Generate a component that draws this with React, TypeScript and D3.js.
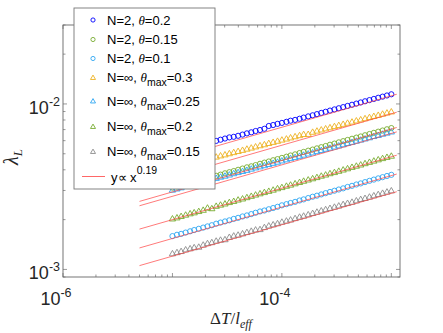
import React from 'react';
import * as d3 from 'd3';

// dT / l_eff values shared by all series
const dT = [
  1.00e-5, 1.10e-5, 1.20e-5, 1.32e-5, 1.45e-5, 1.58e-5, 1.74e-5, 1.91e-5, 2.09e-5, 2.29e-5,
  2.51e-5, 2.75e-5, 3.02e-5, 3.31e-5, 3.63e-5, 3.98e-5, 4.37e-5, 4.79e-5, 5.25e-5, 5.75e-5,
  6.31e-5, 6.92e-5, 7.59e-5, 8.32e-5, 9.12e-5, 1.00e-4, 1.10e-4, 1.20e-4, 1.32e-4, 1.45e-4,
  1.58e-4, 1.74e-4, 1.91e-4, 2.09e-4, 2.29e-4, 2.51e-4, 2.75e-4, 3.02e-4, 3.31e-4, 3.63e-4,
  3.98e-4, 4.37e-4, 4.79e-4, 5.25e-4, 5.75e-4, 6.31e-4, 6.92e-4, 7.59e-4, 8.32e-4, 9.12e-4,
  1.00e-3,
];

// lambda_L, in units of 1e-3
const lamN2t020 = [
  5.09, 5.17, 5.26, 5.34, 5.43, 5.52, 5.61, 5.70, 5.79, 5.89, 5.98, 6.08, 6.18, 6.28, 6.33, 6.42, 6.53,
  6.64, 6.74, 6.86, 6.96, 7.08, 7.36, 7.46, 7.58, 7.68, 7.80, 7.92, 8.01, 8.14, 8.27, 8.41, 8.54, 8.68,
  8.83, 8.97, 9.12, 9.27, 9.42, 9.57, 9.73, 9.89, 10.05, 10.21, 10.38, 10.55, 10.72, 10.90, 11.07, 11.25, 11.44,
];
const lamN2t015 = [
  3.12, 3.17, 3.22, 3.28, 3.33, 3.39, 3.45, 3.50, 3.56, 3.62, 3.68, 3.74, 3.81, 3.87, 3.93, 4.00, 4.07,
  4.14, 4.20, 4.27, 4.35, 4.42, 4.49, 4.57, 4.64, 4.72, 4.80, 4.88, 4.96, 5.05, 5.13, 5.22, 5.30, 5.39,
  5.48, 5.57, 5.67, 5.76, 5.86, 5.96, 6.06, 6.16, 6.26, 6.36, 6.47, 6.58, 6.69, 6.80, 6.91, 7.03, 7.15,
];
const lamN2t010 = [
  1.59, 1.62, 1.64, 1.67, 1.70, 1.73, 1.76, 1.79, 1.82, 1.85, 1.89, 1.92, 1.95, 1.98, 2.02, 2.05, 2.09,
  2.12, 2.16, 2.20, 2.24, 2.27, 2.31, 2.35, 2.39, 2.44, 2.48, 2.52, 2.56, 2.61, 2.65, 2.70, 2.75, 2.79,
  2.84, 2.89, 2.94, 2.99, 3.04, 3.09, 3.15, 3.20, 3.26, 3.31, 3.37, 3.43, 3.49, 3.55, 3.61, 3.67, 3.73,
];
const lamInf030 = [
  4.10, 4.17, 4.23, 4.30, 4.37, 4.44, 4.51, 4.58, 4.65, 4.73, 4.80, 4.88, 4.95, 5.03, 5.11, 5.19, 5.27,
  5.36, 5.44, 5.53, 5.62, 5.70, 5.80, 5.89, 5.98, 6.08, 6.17, 6.27, 6.37, 6.47, 6.57, 6.58, 6.78, 6.89,
  7.00, 7.11, 7.22, 7.34, 7.45, 7.57, 7.69, 7.81, 7.94, 8.06, 8.19, 8.32, 8.45, 8.58, 8.72, 8.86, 9.00,
];
const lamInf025 = [
  3.03, 3.08, 3.13, 3.19, 3.24, 3.29, 3.34, 3.40, 3.45, 3.51, 3.57, 3.63, 3.68, 3.74, 3.81, 3.87, 3.93,
  3.99, 4.06, 4.13, 4.19, 4.26, 4.33, 4.40, 4.47, 4.55, 4.62, 4.70, 4.77, 4.85, 4.93, 5.01, 5.09, 5.18,
  5.26, 5.35, 5.43, 5.52, 5.61, 5.70, 5.80, 5.89, 5.99, 6.08, 6.18, 6.28, 6.39, 6.49, 6.60, 6.70, 6.81,
];
const lamInf020 = [
  2.03, 2.06, 2.10, 2.14, 2.18, 2.21, 2.25, 2.29, 2.36, 2.34, 2.42, 2.46, 2.50, 2.55, 2.59, 2.64, 2.68,
  2.73, 2.78, 2.83, 2.88, 2.93, 2.98, 3.03, 3.09, 3.14, 3.20, 3.25, 3.31, 3.37, 3.43, 3.49, 3.55, 3.61,
  3.68, 3.74, 3.81, 3.87, 3.94, 4.01, 4.08, 4.16, 4.23, 4.30, 4.38, 4.46, 4.54, 4.62, 4.70, 4.78, 4.86,
];
const lamInf015 = [
  1.25, 1.27, 1.29, 1.32, 1.34, 1.36, 1.37, 1.41, 1.44, 1.46, 1.49, 1.51, 1.52, 1.57, 1.60, 1.62, 1.65,
  1.68, 1.71, 1.74, 1.75, 1.80, 1.84, 1.87, 1.90, 1.94, 1.97, 2.00, 2.04, 2.08, 2.11, 2.15, 2.19, 2.23,
  2.27, 2.31, 2.35, 2.39, 2.43, 2.48, 2.52, 2.56, 2.61, 2.66, 2.70, 2.75, 2.80, 2.85, 2.90, 2.95, 3.00,
];

// prefactors of the y ∝ x^0.19 fits, same order as the series
const fitPrefactor = [0.0416, 0.0262, 0.01371, 0.0324, 0.02466, 0.01782, 0.01072];
const fitExponent = 0.19;
const fitRange = [5e-6, 1.12e-3];

const seriesValues = [lamN2t020, lamN2t015, lamN2t010, lamInf030, lamInf025, lamInf020, lamInf015];
const seriesMarker = ['circle', 'circle', 'circle', 'triangle', 'triangle', 'triangle', 'triangle'];
const seriesColor = ['#0000ff', '#77ac30', '#2ea6f2', '#edb120', '#2ea6f2', '#77ac30', '#8c8c8c'];
const legendN = ['2', '2', '2', '∞', '∞', '∞', '∞'];
const legendTheta = ['0.2', '0.15', '0.1', '0.3', '0.25', '0.2', '0.15'];

const FONT = '"Liberation Sans", Arial, Helvetica, sans-serif';
const SERIF = '"Liberation Serif", "Times New Roman", serif';
const FIT_COLOR = '#ff4040';

const triPath = d3.symbol().type(d3.symbolTriangle).size(17)();
const triLegend = d3.symbol().type(d3.symbolTriangle).size(11)();

const Marker = ({ kind, cx, cy, color }) => {
  if (kind === 'circle')
    return <circle cx={cx} cy={cy} r={2.6} fill='none' stroke={color} strokeWidth={0.9} />;
  return <path d={triPath} transform={`translate(${cx},${cy + 0.6})`} fill='none' stroke={color} strokeWidth={0.9} />;
};

export default function App() {
  const x = d3.scaleLog().domain([1e-6, 1.2e-3]).range([63, 400]);
  const y = d3.scaleLog().domain([9e-4, 3e-2]).range([277, 25]);
  const [x0, x1] = x.range();
  const [y0, y1] = y.range();

  const isMajor = v => Math.abs(Math.log10(v) - Math.round(Math.log10(v))) < 1e-6;
  const xTicks = x.ticks().filter(v => v >= 1e-6 && v <= 1.2e-3);
  const yTicks = y.ticks().filter(v => v >= 9e-4 && v <= 3e-2);

  const fitLine = d3.line().x(d => x(d[0])).y(d => y(d[1]));

  // legend row centres
  const rowY = [20, 39.5, 58.5, 77.5, 101, 126.5, 151.5];
  const fitRowY = 176.5;

  return (
    <svg width={443} height={333} style={{ position: 'absolute', left: 0, top: 0, background: '#fff' }}>
      <rect x={0} y={0} width={443} height={333} fill='#fff' />

      {/* ticks */}
      <g stroke='#555' strokeWidth={0.6}>
        {xTicks.map((v, i) => {
          const len = isMajor(v) ? 4 : 2.5;
          const px = x(v);
          return (
            <g key={'xt' + i}>
              <line x1={px} x2={px} y1={y0} y2={y0 - len} />
              <line x1={px} x2={px} y1={y1} y2={y1 + len} />
            </g>
          );
        })}
        {yTicks.map((v, i) => {
          const len = isMajor(v) ? 4 : 2.5;
          const py = y(v);
          return (
            <g key={'yt' + i}>
              <line x1={x0} x2={x0 + len} y1={py} y2={py} />
              <line x1={x1} x2={x1 - len} y1={py} y2={py} />
            </g>
          );
        })}
      </g>

      {/* data markers */}
      {seriesValues.map((vals, s) => (
        <g key={'s' + s}>
          {vals.map((v, i) => (
            <Marker key={i} kind={seriesMarker[s]} cx={x(dT[i])} cy={y(v * 1e-3)} color={seriesColor[s]} />
          ))}
        </g>
      ))}

      {/* power-law fits */}
      {fitPrefactor.map((k, s) => (
        <path
          key={'f' + s}
          d={fitLine(fitRange.map(t => [t, k * Math.pow(t, fitExponent)]))}
          stroke={FIT_COLOR}
          strokeWidth={0.7}
          fill='none'
        />
      ))}

      {/* axes box */}
      <rect x={x0} y={y1} width={x1 - x0} height={y0 - y1} fill='none' stroke='#666' strokeWidth={0.9} />

      {/* tick labels */}
      <g fontFamily={FONT} fill='#262626'>
        {[1e-6, 1e-4].map(v => (
          <text key={'xl' + v} x={x(v) - 7} y={305} fontSize={18} textAnchor='middle'>
            10<tspan fontSize={12.5} dy={-8}>{Math.round(Math.log10(v))}</tspan>
          </text>
        ))}
        {[1e-3, 1e-2].map(v => (
          <text key={'yl' + v} x={60} y={y(v) + 10} fontSize={18} textAnchor='end'>
            10<tspan fontSize={12.5} dy={-8}>{Math.round(Math.log10(v))}</tspan>
          </text>
        ))}
      </g>

      {/* axis labels */}
      <text x={231} y={324} fontFamily={SERIF} fontSize={17} textAnchor='middle' fill='#262626'>
        Δ<tspan fontStyle='italic'>T</tspan>/<tspan fontStyle='italic'>l</tspan>
        <tspan fontStyle='italic' fontSize={12} dy={4}>eff</tspan>
      </text>
      <text transform='translate(18,157) rotate(-90)' fontFamily={SERIF} fontSize={20} textAnchor='middle' fill='#262626'>
        <tspan fontStyle='italic'>λ</tspan>
        <tspan fontStyle='italic' fontSize={13} dy={4}>L</tspan>
      </text>

      {/* legend */}
      <g fontFamily={FONT} fontSize={13} fill='#000'>
        <rect x={74} y={8} width={141} height={181} fill='#fff' stroke='#777' strokeWidth={0.9} />
        {legendN.map((n, i) => (
          <g key={'lg' + i}>
            {seriesMarker[i] === 'circle' ? (
              <circle cx={93} cy={rowY[i]} r={2.1} fill='none' stroke={seriesColor[i]} strokeWidth={0.9} />
            ) : (
              <path d={triLegend} transform={`translate(93,${rowY[i] + 0.5})`} fill='none' stroke={seriesColor[i]} strokeWidth={0.9} />
            )}
            <text x={107} y={rowY[i] + 4.5}>
              N={n}, <tspan fontStyle='italic' fontFamily={SERIF}>θ</tspan>
              {n === '∞' ? <tspan fontSize={10.5} dy={4}>max</tspan> : null}
              <tspan dy={n === '∞' ? -4 : 0}>={legendTheta[i]}</tspan>
            </text>
          </g>
        ))}
        <line x1={82} x2={105} y1={fitRowY} y2={fitRowY} stroke={FIT_COLOR} strokeWidth={0.8} />
        <text x={111} y={fitRowY + 5}>
          y∝ x<tspan fontSize={10.5} dy={-8}>{fitExponent}</tspan>
        </text>
      </g>
    </svg>
  );
}
